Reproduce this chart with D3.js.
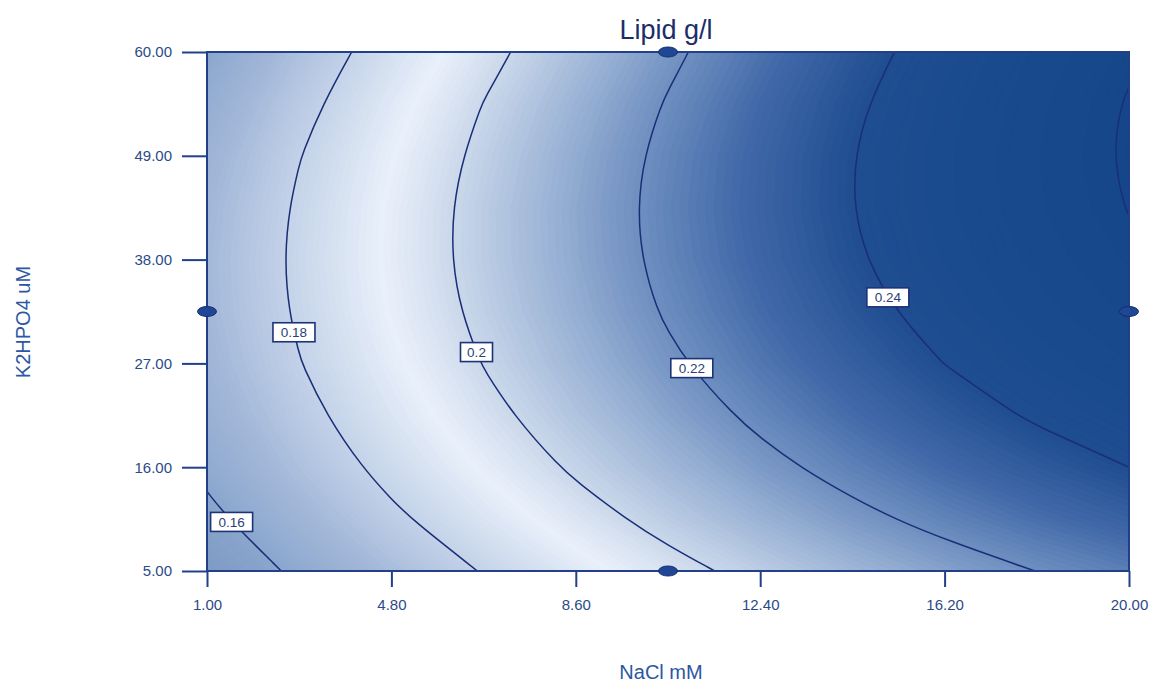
<!DOCTYPE html>
<html>
<head>
<meta charset="utf-8">
<title>Lipid g/l contour</title>
<script src="https://d3js.org/d3.v7.min.js"></script>
<style>
  body { margin: 0; background: #fff; font-family: "Liberation Sans", Arial, sans-serif; }
  .tick text { font-family: "Liberation Sans", Arial, sans-serif; }
</style>
</head>
<body>
<div id="chart"></div>
<script>
// grid columns (NaCl mM) and rows (K2HPO4 uM)
const naclGrid = [1, 2.9, 4.8, 6.7, 8.6, 10.5, 12.4, 14.3, 16.2, 18.1, 20];
const k2hpo4Grid = [5, 10.5, 16, 21.5, 27, 32.5, 38, 43.5, 49, 54.5, 60];

// lipid g/l, one row per K2HPO4 level, bottom to top
const lipid = [
  [0.1517, 0.1620, 0.1717, 0.1806, 0.1889, 0.1965, 0.2034, 0.2097, 0.2152, 0.2201, 0.2243],
  [0.1575, 0.1681, 0.1780, 0.1872, 0.1957, 0.2036, 0.2108, 0.2173, 0.2231, 0.2282, 0.2327],
  [0.1622, 0.1731, 0.1832, 0.1927, 0.2015, 0.2096, 0.2171, 0.2238, 0.2299, 0.2353, 0.2400],
  [0.1658, 0.1769, 0.1873, 0.1971, 0.2061, 0.2145, 0.2222, 0.2292, 0.2356, 0.2412, 0.2462],
  [0.1683, 0.1797, 0.1903, 0.2003, 0.2097, 0.2183, 0.2263, 0.2335, 0.2401, 0.2461, 0.2513],
  [0.1697, 0.1813, 0.1923, 0.2025, 0.2121, 0.2210, 0.2292, 0.2368, 0.2436, 0.2498, 0.2553],
  [0.1700, 0.1819, 0.1931, 0.2036, 0.2134, 0.2226, 0.2311, 0.2389, 0.2460, 0.2524, 0.2582],
  [0.1692, 0.1813, 0.1928, 0.2036, 0.2137, 0.2231, 0.2318, 0.2399, 0.2473, 0.2540, 0.2603],
  [0.1673, 0.1797, 0.1914, 0.2024, 0.2128, 0.2225, 0.2315, 0.2398, 0.2474, 0.2544, 0.2612],
  [0.1642, 0.1769, 0.1889, 0.2002, 0.2108, 0.2207, 0.2300, 0.2386, 0.2465, 0.2537, 0.2606],
  [0.1601, 0.1730, 0.1853, 0.1968, 0.2077, 0.2179, 0.2274, 0.2363, 0.2444, 0.2519, 0.2587]
];

const contourLevels = [0.16, 0.18, 0.2, 0.22, 0.24, 0.26];
const labelLevels = [0.16, 0.18, 0.2, 0.22, 0.24];
const labelText = ["0.16", "0.18", "0.2", "0.22", "0.24"];
const labelAtK2hpo4 = [10.2, 30.3, 28.2, 26.5, 34.0];

const xTicks = [1, 4.8, 8.6, 12.4, 16.2, 20];
const yTicks = [5, 16, 27, 38, 49, 60];

// design points shown as ellipses on the frame
const pointNacl = [10.5, 10.5, 1, 20];
const pointK2hpo4 = [60, 5, 32.5, 32.5];

const width = 1153, height = 683;
const margin = { top: 52, right: 24, bottom: 112, left: 207 };
const innerW = width - margin.left - margin.right;
const innerH = height - margin.top - margin.bottom;

const svg = d3.select('#chart').append('svg')
  .attr('width', width)
  .attr('height', height);

const x = d3.scaleLinear().domain([1, 20]).range([margin.left, margin.left + innerW]);
const y = d3.scaleLinear().domain([5, 60]).range([margin.top + innerH, margin.top]);

const n = naclGrid.length, m = k2hpo4Grid.length;
// d3.contours puts sample i at i + 0.5
const cx = d3.scaleLinear().domain([0.5, n - 0.5]).range([x(naclGrid[0]), x(naclGrid[n - 1])]);
const cy = d3.scaleLinear().domain([0.5, m - 0.5]).range([y(k2hpo4Grid[0]), y(k2hpo4Grid[m - 1])]);

const values = lipid.flat();

const shade = d3.scaleLinear()
  .domain([0.150, 0.160, 0.170, 0.180, 0.192, 0.200, 0.210, 0.220, 0.230, 0.240, 0.250, 0.262])
  .range(['#7b98c3', '#8ba6cd', '#a3b8d9', '#c3d2e8', '#e9f0fa', '#cbd8eb', '#9fb6d7',
          '#6f8fc0', '#4169a8', '#1f4d91', '#194a8d', '#154689'])
  .clamp(true);

svg.append('clipPath').attr('id', 'plotClip')
  .append('rect')
  .attr('x', margin.left).attr('y', margin.top)
  .attr('width', innerW).attr('height', innerH);

const proj = d3.geoTransform({
  point: function(px, py) { this.stream.point(cx(px), cy(py)); }
});
const geo = d3.geoPath(proj);

// filled gradient from many thin bands
const step = 0.0008;
const bands = d3.range(0.145, 0.263, step);
const fills = d3.contours().size([n, m]).thresholds(bands)(values);

const plot = svg.append('g').attr('clip-path', 'url(#plotClip)');

plot.selectAll('path.band')
  .data(fills)
  .enter()
  .append('path')
  .attr('class', 'band')
  .attr('d', geo)
  .attr('fill', d => shade(d.value + step / 2))
  .attr('stroke', d => shade(d.value + step / 2))
  .attr('stroke-width', 0.4);

// contour lines, only the parts inside the sampled area
const eps = 1e-6;
function inside(p) {
  return p[0] >= 0.5 - eps && p[0] <= n - 0.5 + eps && p[1] >= 0.5 - eps && p[1] <= m - 0.5 + eps;
}
function runsOf(ring) {
  let pts = ring.slice(0, -1);
  const k = pts.findIndex(p => !inside(p));
  if (k < 0) return [{ closed: true, pts: pts }];
  pts = pts.slice(k).concat(pts.slice(0, k));
  const runs = [];
  let cur = [];
  pts.forEach(p => {
    if (inside(p)) cur.push(p);
    else {
      if (cur.length > 1) runs.push({ closed: false, pts: cur });
      cur = [];
    }
  });
  if (cur.length > 1) runs.push({ closed: false, pts: cur });
  return runs;
}

const lines = d3.contours().size([n, m]).thresholds(contourLevels)(values);
const lineRuns = [];
lines.forEach(c => {
  c.coordinates.forEach(poly => poly.forEach(ring => {
    runsOf(ring).forEach(r => lineRuns.push({ value: c.value, closed: r.closed, pts: r.pts }));
  }));
});

const openLine = d3.line().x(p => cx(p[0])).y(p => cy(p[1])).curve(d3.curveBasis);
const closedLine = d3.line().x(p => cx(p[0])).y(p => cy(p[1])).curve(d3.curveBasisClosed);

plot.selectAll('path.iso')
  .data(lineRuns)
  .enter()
  .append('path')
  .attr('class', 'iso')
  .attr('d', d => d.closed ? closedLine(d.pts) : openLine(d.pts))
  .attr('fill', 'none')
  .attr('stroke', '#1a2e78')
  .attr('stroke-width', 1.5);

// frame
svg.append('rect')
  .attr('x', margin.left).attr('y', margin.top)
  .attr('width', innerW).attr('height', innerH)
  .attr('fill', 'none')
  .attr('stroke', '#22408a')
  .attr('stroke-width', 2);

// axes
const xAxis = svg.append('g')
  .attr('transform', 'translate(0,' + (margin.top + innerH) + ')')
  .call(d3.axisBottom(x).tickValues(xTicks).tickFormat(d3.format('.2f')).tickSize(16).tickSizeOuter(0).tickPadding(12));
const yAxis = svg.append('g')
  .attr('transform', 'translate(' + margin.left + ',0)')
  .call(d3.axisLeft(y).tickValues(yTicks).tickFormat(d3.format('.2f')).tickSize(25).tickSizeOuter(0).tickPadding(10));

[xAxis, yAxis].forEach(a => {
  a.select('.domain').remove();
  a.selectAll('.tick line').attr('stroke', '#22408a').attr('stroke-width', 2);
  a.selectAll('.tick text').attr('fill', '#2c4a88').style('font-size', '15px');
});

// contour labels
labelLevels.forEach((lv, i) => {
  const ty = y(labelAtK2hpo4[i]);
  let lx = null;
  lineRuns.filter(r => Math.abs(r.value - lv) < 1e-9).forEach(r => {
    for (let j = 1; j < r.pts.length && lx === null; j++) {
      const y0 = cy(r.pts[j - 1][1]), y1 = cy(r.pts[j][1]);
      if ((y0 - ty) * (y1 - ty) <= 0 && y0 !== y1) {
        const t = (ty - y0) / (y1 - y0);
        lx = cx(r.pts[j - 1][0]) + t * (cx(r.pts[j][0]) - cx(r.pts[j - 1][0]));
      }
    }
  });
  if (lx === null) return;
  const g = svg.append('g').attr('transform', 'translate(' + lx + ',' + ty + ')');
  const w = labelText[i].length > 3 ? 42 : 32;
  g.append('rect')
    .attr('x', -w / 2).attr('y', -9.5)
    .attr('width', w).attr('height', 19)
    .attr('fill', '#fff')
    .attr('stroke', '#1d3277')
    .attr('stroke-width', 1.6);
  g.append('text')
    .attr('text-anchor', 'middle')
    .attr('dy', '0.36em')
    .attr('fill', '#2a3f78')
    .style('font-size', '13.5px')
    .text(labelText[i]);
});

// design points
svg.selectAll('ellipse.pt')
  .data(pointNacl.map((v, i) => [v, pointK2hpo4[i]]))
  .enter()
  .append('ellipse')
  .attr('class', 'pt')
  .attr('cx', d => x(d[0]))
  .attr('cy', d => y(d[1]))
  .attr('rx', 9.5)
  .attr('ry', 5)
  .attr('fill', '#1f4795')
  .attr('stroke', '#142e6c')
  .attr('stroke-width', 1);

// titles
svg.append('text')
  .attr('x', 666).attr('y', 39)
  .attr('text-anchor', 'middle')
  .attr('fill', '#1c2d6a')
  .style('font-size', '27px')
  .text('Lipid g/l');

svg.append('text')
  .attr('x', 661).attr('y', 679)
  .attr('text-anchor', 'middle')
  .attr('fill', '#2b57a3')
  .style('font-size', '20px')
  .text('NaCl mM');

svg.append('text')
  .attr('transform', 'translate(30,322) rotate(-90)')
  .attr('text-anchor', 'middle')
  .attr('fill', '#2b57a3')
  .style('font-size', '20px')
  .text('K2HPO4 uM');
</script>
</body>
</html>
